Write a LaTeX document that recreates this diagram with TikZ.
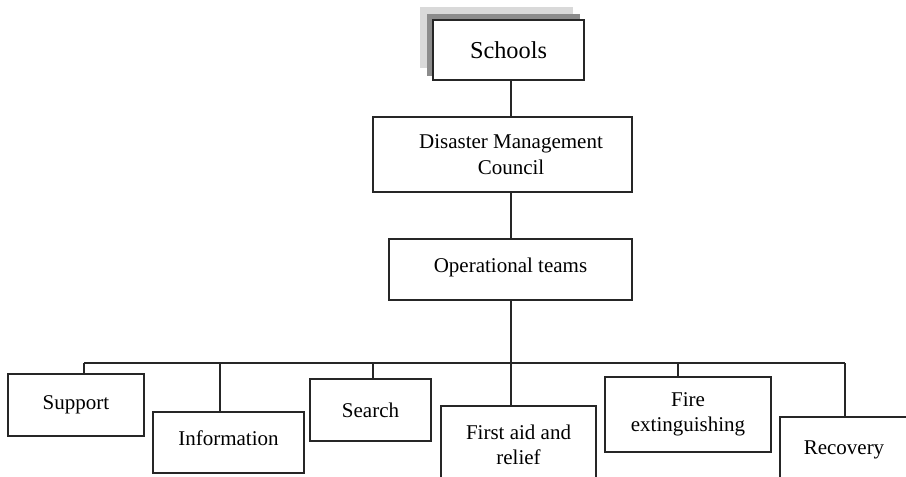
\documentclass[tikz,border=0pt]{standalone}
\usepackage{fontspec}
\setmainfont{Liberation Serif}
\tikzset{
  unit/.style={draw=black!85,line width=1.4pt,fill=white,align=center,inner sep=0pt,
    font=\fontsize{21}{25.5}\selectfont},
  link/.style={draw=black!85,line width=1.4pt}
}
\begin{document}
\begin{tikzpicture}[x=1pt,y=-1pt]
\useasboundingbox (0,0) rectangle (906,477);
\begin{scope}
\clip (0,0) rectangle (906,477);
\fill[white] (0,0) rectangle (906,477);
% shadow of the top box
\fill[black!15] (420,7) rectangle (573,68);
\fill[black!45] (427,14) rectangle (580,76);
\node[unit,line width=1.8pt,minimum width=151pt,minimum height=60pt,
  font=\fontsize{24.3}{28}\selectfont] (schools) at (508.5,50) {Schools};
\node[unit,minimum width=259pt,minimum height=75pt] (council) at (502.5,154.5)
  {\hspace*{17pt}Disaster Management\\\hspace*{17pt}Council};
\node[unit,minimum width=243pt,minimum height=61pt] (teams) at (510.5,269.5)
  {\raisebox{8pt}{Operational teams}};
\coordinate (trunk) at (511,0);
\draw[link] (schools.south -| trunk)--(council.north -| trunk);
\draw[link] (council.south -| trunk)--(teams.north -| trunk);
% teams
\node[unit,minimum width=136pt,minimum height=62pt] (support) at (76,405) {Support};
\node[unit,minimum width=151pt,minimum height=61pt] (info) at (228.5,442.5)
  {\raisebox{8pt}{Information}};
\node[unit,minimum width=121pt,minimum height=62pt] (search) at (370.5,410) {Search};
\node[unit,minimum width=155pt,minimum height=78pt] (aid) at (518.5,445)
  {First aid and\\relief};
\node[unit,minimum width=166pt,minimum height=75pt] (fire) at (688,414.5)
  {Fire\\extinguishing};
\node[unit,minimum width=140pt,minimum height=66pt] (recovery) at (850,450)
  {\raisebox{5pt}{Recovery}\hspace*{12pt}};
\coordinate (b1) at (84,363);
\coordinate (b2) at (220,363);
\coordinate (b3) at (373,363);
\coordinate (b4) at (511,363);
\coordinate (b5) at (678,363);
\coordinate (b6) at (845,363);
\draw[link] (teams.south -| trunk)--(b4);
\draw[link] (b1)--(b6);
\draw[link] (b1)--(b1 |- support.north);
\draw[link] (b2)--(b2 |- info.north);
\draw[link] (b3)--(b3 |- search.north);
\draw[link] (b4)--(b4 |- aid.north);
\draw[link] (b5)--(b5 |- fire.north);
\draw[link] (b6)--(b6 |- recovery.north);
\end{scope}
\end{tikzpicture}
\end{document}
